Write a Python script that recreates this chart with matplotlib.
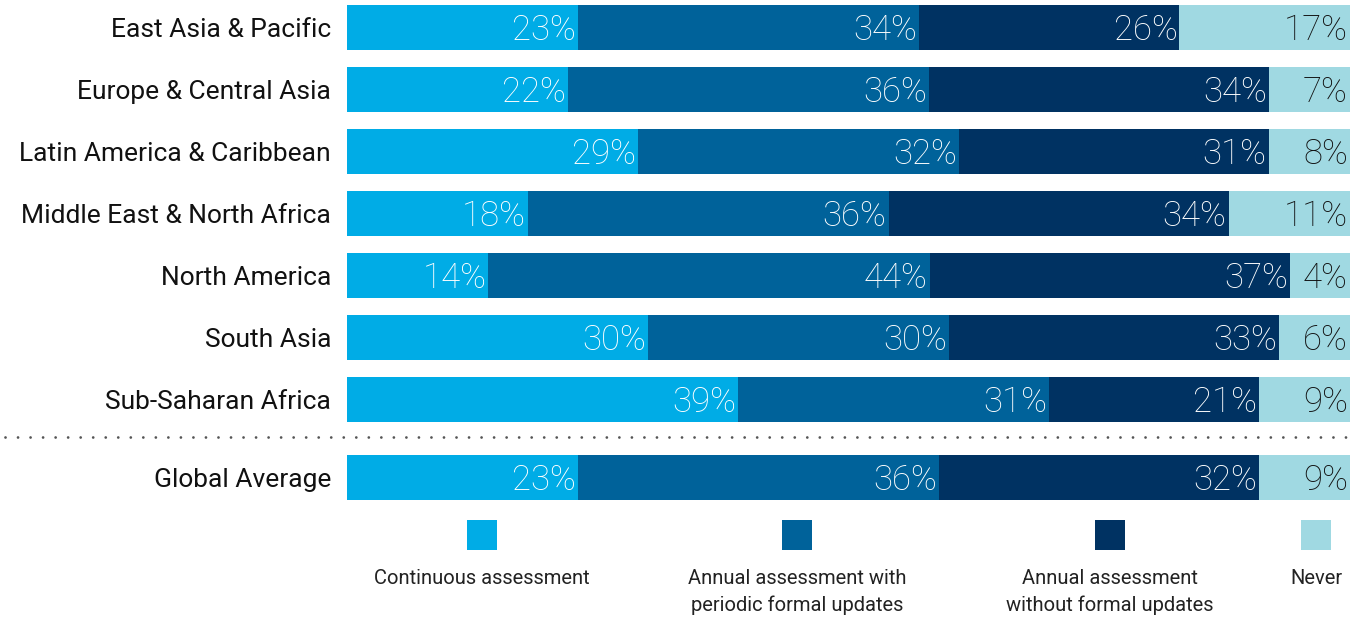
import matplotlib.pyplot as plt
from matplotlib.patches import Rectangle

# ---- data ----
regions = ['East Asia & Pacific', 'Europe & Central Asia', 'Latin America & Caribbean',
           'Middle East & North Africa', 'North America', 'South Asia',
           'Sub-Saharan Africa', 'Global Average']
series = ['Continuous assessment', 'Annual assessment with\nperiodic formal updates',
          'Annual assessment\nwithout formal updates', 'Never']

# printed labels (%)
continuous_lbl = [23, 22, 29, 18, 14, 30, 39, 23]
periodic_lbl = [34, 36, 32, 36, 44, 30, 31, 36]
noupdate_lbl = [26, 34, 31, 34, 37, 33, 21, 32]
never_lbl = [17, 7, 8, 11, 4, 6, 9, 9]

# drawn segment widths (share of the bar)
continuous_w = [23, 22, 29, 18, 14.1, 30, 39, 23]
periodic_w = [34, 36, 32, 36, 44, 30, 31, 36]
noupdate_w = [26, 33.9, 30.9, 33.9, 35.9, 32.9, 20.9, 31.9]
never_w = [17, 8.1, 8.1, 12.1, 6.0, 7.1, 9.1, 9.1]

colors = ['#00ace6', '#00629a', '#003262', '#a0d9e2']
text_colors = ['white', 'white', 'white', '#111111']

W, H = 1364, 618
fig = plt.figure(figsize=(W / 100, H / 100), dpi=100)
plt.rcParams['font.family'] = ['Roboto', 'DejaVu Sans']

ax = fig.add_axes([347 / W, 0, 1003 / W, 1])
row_px = 62.0
first_c = 27.5
ypos = [0, 1, 2, 3, 4, 5, 6, (477.5 - first_c) / row_px]
bar_h = 45 / row_px

widths = [continuous_w, periodic_w, noupdate_w, never_w]
labels = [continuous_lbl, periodic_lbl, noupdate_lbl, never_lbl]
left = [0.0] * len(regions)
for k in range(4):
    ax.barh(ypos, widths[k], left=left, height=bar_h, color=colors[k], linewidth=0)
    for i in range(len(regions)):
        xend = left[i] + widths[k][i]
        ax.annotate(f'{labels[k][i]}%', (xend, ypos[i]), xytext=(-1.5, -9),
                    textcoords='offset points', ha='right', va='baseline',
                    color=text_colors[k], fontsize=25, fontweight='light',
                    annotation_clip=False)
        left[i] = xend

ax.set_xlim(0, 100)
ax.set_ylim((H - first_c) / row_px, -first_c / row_px)
ax.set_yticks(ypos, regions)
ax.tick_params(axis='y', length=0, pad=11.5, labelsize=19, labelcolor='#111111')
ax.set_xticks([])
for s in ax.spines.values():
    s.set_visible(False)
ax.patch.set_alpha(0)

# dotted separator
sep_y = (437 - first_c) / row_px
ax.plot([(5 - 347) / 10.03, 100], [sep_y, sep_y], color='#555555', lw=2.0,
        linestyle=(0, (0.01, 4.5)), dash_capstyle='round', clip_on=False)

# legend
leg_x = [482, 797, 1110, 1316]
for k in range(4):
    fig.add_artist(Rectangle(((leg_x[k] - 15) / W, 1 - 550 / H), 30 / W, 30 / H,
                             transform=fig.transFigure, color=colors[k], lw=0))
    fig.text(leg_x[k] / W, 1 - 569 / H, series[k], ha='center', va='top',
             fontsize=14.5, color='#222222', linespacing=1.5)

fig.savefig('out.png', dpi=100)
